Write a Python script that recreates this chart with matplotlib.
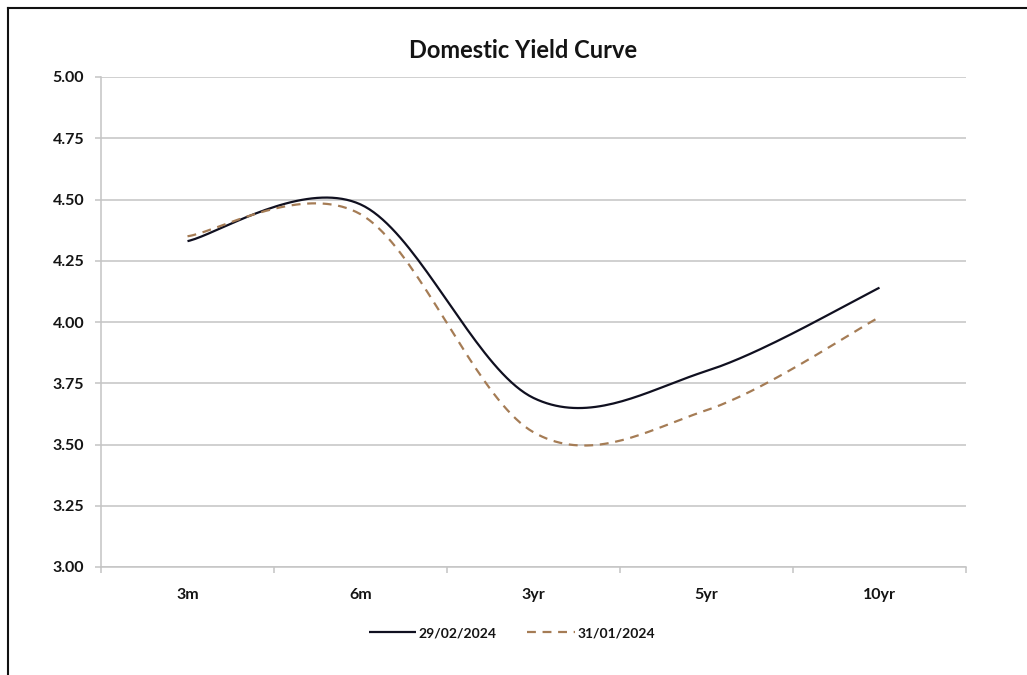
import numpy as np
import matplotlib
matplotlib.use("Agg")
import matplotlib.pyplot as plt
from matplotlib.lines import Line2D

plt.rcParams['font.family'] = ['Lato', 'DejaVu Sans']

# data
tenors = ["3m", "6m", "3yr", "5yr", "10yr"]
feb_2024 = [4.33, 4.48, 3.69, 3.80, 4.14]
jan_2024 = [4.35, 4.44, 3.55, 3.64, 4.02]
series_labels = ["29/02/2024", "31/01/2024"]
yticks = [3.00, 3.25, 3.50, 3.75, 4.00, 4.25, 4.50, 4.75, 5.00]

text_col = "#141414"
grid_col = "#c4c4c4"


def smooth(xs, ys, n=40):
    # excel-like smoothed line: catmull-rom segments as cubic beziers
    p = np.column_stack([xs, ys]).astype(float)
    ext = np.vstack([p[0], p, p[-1]])
    out = []
    t = np.linspace(0, 1, n)[:, None]
    for i in range(len(p) - 1):
        p0, p1, p2, p3 = ext[i], ext[i + 1], ext[i + 2], ext[i + 3]
        b1 = p1 + (p2 - p0) / 6
        b2 = p2 - (p3 - p1) / 6
        seg = (1 - t) ** 3 * p1 + 3 * (1 - t) ** 2 * t * b1 + 3 * (1 - t) * t ** 2 * b2 + t ** 3 * p2
        out.append(seg if i == 0 else seg[1:])
    out = np.vstack(out)
    return out[:, 0], out[:, 1]


fig = plt.figure(figsize=(10.27, 6.75), dpi=100)
ax = fig.add_axes([101 / 1027, (675 - 567) / 675, 865 / 1027, 490 / 675])

x = np.arange(len(tenors))
sx, sy = smooth(x, feb_2024)
ax.plot(sx, sy, color="#101020", lw=1.6, label=series_labels[0], solid_capstyle="butt")
sx, sy = smooth(x, jan_2024)
ax.plot(sx, sy, color="#a57c55", lw=1.6, dashes=(4, 3), label=series_labels[1])

ax.set_xlim(-0.5, len(tenors) - 0.5)
ax.set_ylim(3.0, 5.0)
ax.set_yticks(yticks)
ax.set_yticklabels([f"{v:.2f}" for v in yticks])
ax.set_xticks(x)
ax.set_xticklabels(tenors)
ax.set_xticks(np.arange(-0.5, len(tenors)), minor=True)

ax.grid(axis="y", color=grid_col, lw=1.1)
ax.set_axisbelow(True)
for s in ["top", "right"]:
    ax.spines[s].set_visible(False)
for s in ["left", "bottom"]:
    ax.spines[s].set_color(grid_col)
    ax.spines[s].set_linewidth(1.1)

ax.tick_params(axis="y", length=4, width=1.1, color=grid_col, pad=8,
               labelsize=11.5, labelcolor=text_col)
ax.tick_params(axis="x", which="major", length=0, pad=15,
               labelsize=11.5, labelcolor=text_col)
ax.tick_params(axis="x", which="minor", length=4, width=1.1, color=grid_col)
for lbl in ax.get_xticklabels() + ax.get_yticklabels():
    lbl.set_fontweight("bold")

fig.text(523 / 1027, 1 - 50 / 675, "Domestic Yield Curve", ha="center", va="center",
         fontsize=17, fontweight="bold", color=text_col)

fig.legend(loc="center", bbox_to_anchor=(512 / 1027, 1 - 633 / 675), ncol=2,
           frameon=False, handlelength=3.4, handletextpad=0.2, columnspacing=2.2,
           prop={"weight": "bold", "size": 10}, labelcolor=text_col)

# outer chart frame (left and top edges visible in the crop)
fig.add_artist(Line2D([7.5 / 1027, 7.5 / 1027], [0, 1 - 7.5 / 675], color="#111111", lw=1.5))
fig.add_artist(Line2D([7.5 / 1027, 1], [1 - 7.5 / 675, 1 - 7.5 / 675], color="#111111", lw=1.5))

fig.savefig("out.png", dpi=100)
